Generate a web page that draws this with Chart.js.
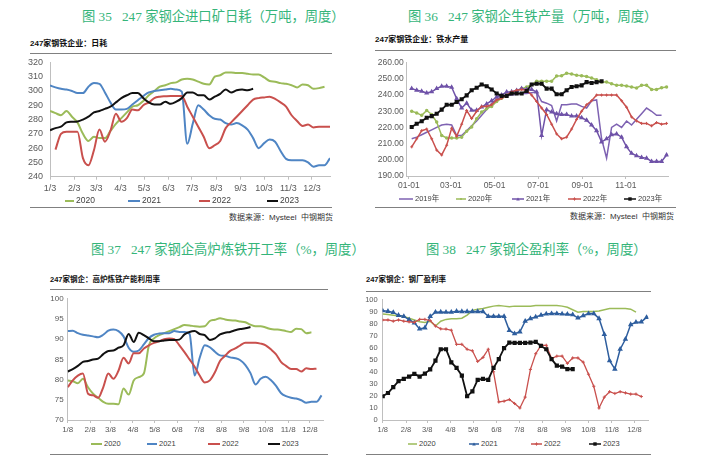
<!DOCTYPE html>
<html><head><meta charset="utf-8">
<script src="https://cdn.jsdelivr.net/npm/chart.js@4.4.0/dist/chart.umd.min.js"></script>
<style>
html,body{margin:0;padding:0;background:#fff;}
#wrap{position:relative;width:712px;height:456px;overflow:hidden;background:#fff;}
.t{position:absolute;white-space:nowrap;font-family:"Liberation Serif","Noto Sans CJK SC",serif;font-size:13.3px;color:#35b57a;line-height:13px;}
.s{position:absolute;white-space:nowrap;font-weight:bold;font-size:8px;color:#111;line-height:8px;font-family:"Liberation Sans","Noto Sans CJK SC",sans-serif;}
.r{position:absolute;height:1px;background:#808080;}
.src{position:absolute;white-space:nowrap;font-size:8px;color:#333;line-height:8px;font-family:"Liberation Sans","Noto Sans CJK SC",sans-serif;}
.lg{position:absolute;white-space:nowrap;color:#404040;font-family:"Liberation Sans","Noto Sans CJK SC",sans-serif;}
canvas{position:absolute;}
svg{position:absolute;overflow:visible;}
</style></head>
<body><div id="wrap">
<canvas id="c1" width="345" height="150" style="left:0;top:50px"></canvas>
<canvas id="c2" width="320" height="145" style="left:356px;top:50px"></canvas>
<canvas id="c3" width="295" height="145" style="left:40px;top:290px"></canvas>
<canvas id="c4" width="300" height="145" style="left:356px;top:290px"></canvas>

<div class="t" style="left:82px;top:10px">图 35&nbsp;&nbsp;&nbsp;247 家钢企进口矿日耗（万吨，周度）</div>
<div class="t" style="left:408px;top:10px">图 36&nbsp;&nbsp;&nbsp;247 家钢企生铁产量（万吨，周度）</div>
<div class="t" style="left:91px;top:243px">图 37&nbsp;&nbsp;&nbsp;247 家钢企高炉炼铁开工率（%，周度）</div>
<div class="t" style="left:426px;top:243px">图 38&nbsp;&nbsp;&nbsp;247 家钢企盈利率（%，周度）</div>

<div class="s" style="left:30px;top:40px">247家钢铁企业：日耗</div>
<div class="s" style="left:375px;top:36px">247家钢铁企业：铁水产量</div>
<div class="s" style="left:50px;top:276px;font-size:7.5px">247家钢企：高炉炼铁产能利用率</div>
<div class="s" style="left:366px;top:276px;font-size:7.5px">247家钢企：钢厂盈利率</div>

<div class="r" style="left:30px;width:302px;top:53px"></div>
<div class="r" style="left:30px;width:302px;top:207px"></div>
<div class="r" style="left:375px;width:301px;top:50px"></div>
<div class="r" style="left:375px;width:301px;top:207px"></div>
<div class="r" style="left:50px;width:278px;top:289px"></div>
<div class="r" style="left:50px;width:278px;top:454px"></div>
<div class="r" style="left:366px;width:285px;top:291px"></div>
<div class="r" style="left:366px;width:285px;top:454px"></div>

<div class="src" style="right:379px;top:214px">数据来源：Mysteel&nbsp;&nbsp;中钢期货</div>
<div class="src" style="right:38px;top:213px">数据来源：Mysteel&nbsp;&nbsp;中钢期货</div>
<div id="legends"></div>
</div>
<script>
// ---------- tick positions / labels ----------
const monthDays = [0,31,59,90,120,151,181,212,243,273,304,334];
const c1TickLabels = ['1/3','2/3','3/3','4/3','5/3','6/3','7/3','8/3','9/3','10/3','11/3','12/3'];
const c2TickDays = [0,59,120,181,243,304];
const c2TickLabels = ['01-01','03-01','05-01','07-01','09-01','11-01'];
const c34TickLabels = ['1/8','2/8','3/8','4/8','5/8','6/8','7/8','8/8','9/8','10/8','11/8','12/8'];

// ---------- Chart 35: daily consumption of imported ore (weekly from 1/3) ----------
const c1_2020 = [286,284.5,283,286,282,278,270,265,268,267,267,272,277,281,285,289,290,293,297,300,303,304,305.5,306,308,308.5,308,306.5,305,304.5,310,311,313,313,312.5,312.5,312,311.5,311.5,309.5,307,306.5,305.5,305,304,302.5,304.5,304,301.5,302,303];
const c1_2021 = [303.8,302.5,301.5,301,300,298.5,298.5,303,305.5,305,299,292,287,287,287.5,290.5,293.5,296.5,299,300,300.5,301,301.5,301,299.5,263,277,290,287,283,280.5,280,277.5,276.5,277.5,276,273,267,260,263.5,266,264.5,258,252.5,251.5,251.5,251.5,250,247,248,248,253];
const c1_2022 = [null,259,270,271.5,271.5,271.5,253,248,258.5,273,264.5,272,284,278.5,281,287,286.5,290,292,295,296,296.3,296.5,296.5,296.5,289,282,275,268,260,262,265,274,278,282,286,290,294,295,295.5,296,294.5,292,289,283,279,275.5,276.5,274.5,275,275,275];
const c1_2023 = [272.5,274,275,278,278.5,278.7,280,282,285,286,287.5,289,292,295,297,298.5,298.5,295,292,290.5,290.5,292.5,291,292.5,295,299,299,297,297,294,296,298,301,299,300.5,301,300.5,301.5];

// ---------- Chart 36: pig iron output (weekly from early Jan) ----------
const c2_2019 = [213,214,215.5,217,218.5,220,221.5,222,221.5,215,215,218,221,224,227.5,231,235,237.5,238.5,239.5,240,240.5,241,241,241.5,241.9,236,235,233.5,224,234,234,234.5,234.5,233,232,236.5,237,213,201,220,222,220,224,221.5,225,228.5,232,230,227.5,227.5];
const c2_2020 = [230,229,227.5,230.5,228,223.3,215,213.5,213.5,213.5,214,217.6,220.3,225.4,229.5,231.6,233,236,238,239.5,240.9,242.5,244,245,246.5,248.5,248.5,248.5,248.5,251.8,252,253.5,253,252.2,252,251.5,250.5,249.5,248,248,247,246,246,245.6,245,244.4,246,246,243.5,243.5,244.5,245];
const c2_2021 = [244,243,242.3,241.3,242,244,245.4,245.4,244.8,237.8,232,235,230.6,230.6,232.6,234.5,236.5,238.8,240,241.9,242,242.9,244,243.5,243.5,241.9,215,231,229.5,228.5,228,228,227,227,226,224.5,221.5,218,211,213,215.5,216,214,208,204,202.5,201.5,201,199,199,199,203];
const c2_2022 = [208,213,218,219,213,206,203,209,219.5,214.5,222,230.5,225.5,230,233,233,234,237,238,240,242,243,243.5,243,240,236,232,228,222,216,213,214,219,225,230,234,236.5,240,240,240,240,240,236.5,232.5,226.5,224,222.5,222.5,221,223,222,222.5];
const c2_2023 = [220.3,222.3,223.8,226,227,228.5,231,234,234,235.7,237.4,239.8,243,244.5,246.5,245.5,243.5,241,239.5,239.5,241,241,241,242.5,246.5,247,247,244,244,240.5,240.5,243,245,245.5,246,248,247.5,248,248.5];

// ---------- Chart 37: blast furnace utilization % (weekly from 1/8) ----------
const c3_2020 = [79.8,79.6,79.1,80.2,78.1,76.5,75.5,74.5,74,74,73.9,77.8,76.3,79.8,80.6,81.5,88.5,90.2,91,91.5,92,92.5,93,93.5,93.4,93.2,93.1,93.2,94.5,94.8,95.2,94.9,94.7,94.6,94.4,94.2,93.6,93.2,93.2,92.9,92.5,92.4,92.3,92,91.8,92.6,92.5,91.5,91.7];
const c3_2021 = [92,92.1,91.5,91.1,90.9,90.7,90.5,91.1,92.1,92.4,92,90.7,87.9,86.9,87.2,88.7,90.3,91.1,91.4,91.5,91.5,92,91.8,91.8,91.3,81,85.4,88.5,88,86.9,86,85.9,85.5,85.3,84.8,83.6,81.6,78.8,80.2,80.7,79.9,78.5,76.7,75.9,75.5,75.3,74.9,74.3,74.5,74.5,76.1];
const c3_2022 = [78.1,79.8,81,81.5,76.5,76.1,75.5,78.1,81.5,80.2,82.2,85.4,84,86.5,86.5,87.7,88.5,89.1,89.5,90,90.2,90,88.5,86.8,85,83.2,81,79.3,79.8,81.8,84.6,85.9,87.1,87.7,88.5,89.1,89.1,89.1,88.9,88.5,87.5,86.3,84.4,83.4,82.6,82.6,82,82.8,82.6,82.7];
const c3_2023 = [82,82.6,83.4,84.4,84.6,85,85.2,86.3,87.1,87.2,87.9,88.5,91.3,89.3,91.6,91,90.2,89.5,89.5,89.7,89.8,89.8,89.9,91.2,91.8,92,91.3,91,89.8,90.2,91.2,91.6,91.8,92.2,92.5,92.7,93];

// ---------- Chart 38: steel mill profitability % (weekly from 1/8) ----------
const c4_2020 = [88,87.5,87,86.5,86,84.5,83,81.5,81,82,78,82,83.5,84,84,84.5,87,91,92,92.5,93.5,94.5,95,94.5,94,94.5,94.5,94.5,94.5,95,95,95,95,95,94.5,93.5,91.5,89.5,90,90,90,90.5,91.5,92.5,92.5,92.5,92.5,92,89.5];
const c4_2021 = [90.7,90.2,89.3,86.9,86,83.3,80.6,75.5,76.5,86,89.5,89.6,89.4,89.5,90.2,90,90,90,90,90,86,86,86,86,74.3,71.6,73.2,82,84.2,85.5,87,88,88.3,88.3,88,87.8,87.4,84.7,86.5,88.3,88.3,84.2,71,49.2,42.3,58.7,67,79.2,81.1,81.4,85.2];
const c4_2022 = [83,83,82,83,82,81.5,81,83.5,83.5,82.5,78,75.7,75.5,74.5,62.8,62.8,58.7,57.4,48.6,51.9,58.7,40,15,15.6,17,13.7,10,19,42,55,62,62,51,53,53,47,51.5,51.5,48,38,28,10,19,23.5,22,23.5,22.5,21.5,21.5,19.5];
const c4_2023 = [19.7,22.4,27.3,32.2,34.2,36,38.3,36,38.5,42,49.2,58.7,58.7,47.8,43.2,36.9,19.7,23.8,33.3,34.2,33.3,43.2,50.5,59.6,64.2,64,64,64,64.2,64.8,61.5,58.7,50.5,45.1,44.3,42.3,42.3];

// ---------- colours ----------
const GREEN='#9BBB59', BLUE='#4F85C4', RED='#C9504D', BLACK='#111111', PURPLE='#7E62B2', PURPLE2='#6F52A8', BLUE2='#2E5E9E';
const AX='#BFBFBF', TXT='#595959', FONT='"Liberation Sans","Noto Sans CJK SC",sans-serif';

function ser(vals, x0, color, order, extra){
  const data=[];
  vals.forEach((v,i)=>{ if(v!==null) data.push({x:x0+7*i, y:v}); });
  return Object.assign({data, borderColor:color, backgroundColor:color, pointBorderColor:color, pointBackgroundColor:color,
    borderWidth:2, pointRadius:0, tension:0, fill:false, order}, extra||{});
}

function build(id, c){
  new Chart(document.getElementById(id), {
    type:'line',
    data:{datasets:c.sets},
    options:{
      responsive:false, animation:false, devicePixelRatio:1,
      layout:{padding:{left:0, top:c.pt, right:c.pr, bottom:0}},
      plugins:{legend:{display:false}, tooltip:{enabled:false}},
      scales:{
        x:{type:'linear', min:c.xmin, max:c.xmax,
          afterBuildTicks:s=>{ s.ticks=c.xTicks.map(v=>({value:v})); },
          afterFit:s=>{ s.height=c.xh; },
          ticks:{autoSkip:false, maxRotation:0, minRotation:0, padding:c.xpad, color:TXT, font:{family:FONT, size:c.fs},
            callback:(v,i)=>c.xLabels[i]},
          grid:{display:true, drawOnChartArea:false, drawTicks:true, tickLength:3, color:AX},
          border:{display:true, color:AX}},
        y:{type:'linear', min:c.ymin, max:c.ymax,
          afterBuildTicks:s=>{ const t=[]; for(let v=c.ymin; v<=c.ymax+1e-9; v+=c.ystep) t.push({value:v}); s.ticks=t; },
          afterFit:s=>{ s.width=c.yw; },
          ticks:{padding:c.ypad, color:TXT, font:{family:FONT, size:c.fs}, callback:c.yfmt||(v=>v)},
          grid:{display:true, drawOnChartArea:false, drawTicks:false, color:AX},
          border:{display:true, color:AX}}
      }
    }
  });
}

const smooth={cubicInterpolationMode:'monotone'};
build('c1', {pt:11.7, pr:15, yw:50, xh:23.3, xpad:3, ypad:7, fs:9, xmin:0, xmax:357, ymin:240, ymax:320, ystep:10,
  xTicks:monthDays, xLabels:c1TickLabels,
  sets:[ser(c1_2020,0,GREEN,4,smooth), ser(c1_2021,0,BLUE,3,smooth), ser(c1_2022,0,RED,2,smooth), ser(c1_2023,0,BLACK,1,smooth)]});

build('c2', {pt:12.7, pr:7.3, yw:50.7, xh:19, xpad:2, ypad:3, fs:8.5, xmin:-3, xmax:364, ymin:190, ymax:260, ystep:10,
  yfmt:v=>v.toFixed(2), xTicks:c2TickDays, xLabels:c2TickLabels,
  sets:[
    ser(c2_2019,4,PURPLE,5,{borderWidth:1.5}),
    ser(c2_2020,4,GREEN,4,{borderWidth:1.5, pointRadius:1}),
    ser(c2_2021,4,PURPLE2,3,{borderWidth:1.5, pointRadius:1.5, pointStyle:'triangle'}),
    ser(c2_2022,4,RED,2,{borderWidth:1.5, pointRadius:1.5, pointStyle:'cross', pointBorderWidth:1}),
    ser(c2_2023,4,BLACK,1,{borderWidth:1.8, pointRadius:1.6, pointStyle:'rect'})]});

build('c3', {pt:7, pr:12, yw:27.7, xh:15, xpad:2, ypad:4, fs:8, xmin:0, xmax:352, ymin:70, ymax:100, ystep:5,
  xTicks:monthDays, xLabels:c34TickLabels,
  sets:[ser(c3_2020,0,GREEN,4,smooth), ser(c3_2021,0,BLUE,3,smooth), ser(c3_2022,0,RED,2,smooth), ser(c3_2023,0,BLACK,1,smooth)]});

build('c4', {pt:8, pr:7.5, yw:26.7, xh:15, xpad:2, ypad:5, fs:7.5, xmin:0, xmax:352.6, ymin:0, ymax:100, ystep:10,
  xTicks:monthDays, xLabels:c34TickLabels,
  sets:[
    ser(c4_2020,0,GREEN,4,{borderWidth:1.5}),
    ser(c4_2021,0,BLUE2,3,{borderWidth:1.5, pointRadius:1.7, pointStyle:'triangle'}),
    ser(c4_2022,0,RED,2,{borderWidth:1.3, pointRadius:1.6, pointStyle:'cross', pointBorderWidth:1}),
    ser(c4_2023,0,BLACK,1,{borderWidth:1.8, pointRadius:1.7, pointStyle:'rect'})]});

// ---------- HTML legends ----------
const L=document.getElementById('legends');
function leg(x1,x2,y,color,marker,text,fs,lw){
  const w=x2-x1;
  let mk='';
  if(marker==='rect') mk=`<rect x="${w/2-1.7}" y="2.3" width="3.4" height="3.4" fill="${color}"/>`;
  if(marker==='tri') mk=`<polygon points="${w/2-1.8},5.6 ${w/2+1.8},5.6 ${w/2},2.4" fill="${color}"/>`;
  if(marker==='cross') mk=`<path d="M${w/2-1.6} 4H${w/2+1.6}M${w/2} 2.4V5.6" stroke="${color}" stroke-width="1"/>`;
  if(marker==='dot') mk=`<circle cx="${w/2}" cy="4" r="1" fill="${color}"/>`;
  L.insertAdjacentHTML('beforeend',
    `<svg style="left:${x1}px;top:${y-4}px" width="${w}" height="8"><line x1="0" y1="4" x2="${w}" y2="4" stroke="${color}" stroke-width="${lw}"/>${mk}</svg>`+
    `<div class="lg" style="left:${x2+2}px;top:${y-fs/2-0.5}px;font-size:${fs}px;line-height:${fs+1}px">${text}</div>`);
}
// chart 35
leg(65,74,201,GREEN,'','2020',8.5,2); leg(128,140,201,BLUE,'','2021',8.5,2);
leg(199,210,201,RED,'','2022',8.5,2); leg(267,278,201,BLACK,'','2023',8.5,2);
// chart 36
leg(399,413,199,PURPLE,'','2019年',7.5,1.5); leg(456,466,199,GREEN,'dot','2020年',7.5,1.5);
leg(512,524,199,PURPLE2,'tri','2021年',7.5,1.5); leg(568,581,199,RED,'cross','2022年',7.5,1.5);
leg(624,636,199,BLACK,'rect','2023年',7.5,1.5);
// chart 37
leg(91,102,444,GREEN,'','2020',7.5,2); leg(147,157,444,BLUE,'','2021',7.5,2);
leg(208,220,444,RED,'','2022',7.5,2); leg(268,280,444,BLACK,'','2023',7.5,2);
// chart 38
leg(408,417,444,GREEN,'','2020',7.5,1.5); leg(469,479,444,BLUE2,'tri','2021',7.5,1.5);
leg(531,542,444,RED,'cross','2022',7.5,1.5); leg(589,601,444,BLACK,'rect','2023',7.5,1.5);
</script>
</body></html>
